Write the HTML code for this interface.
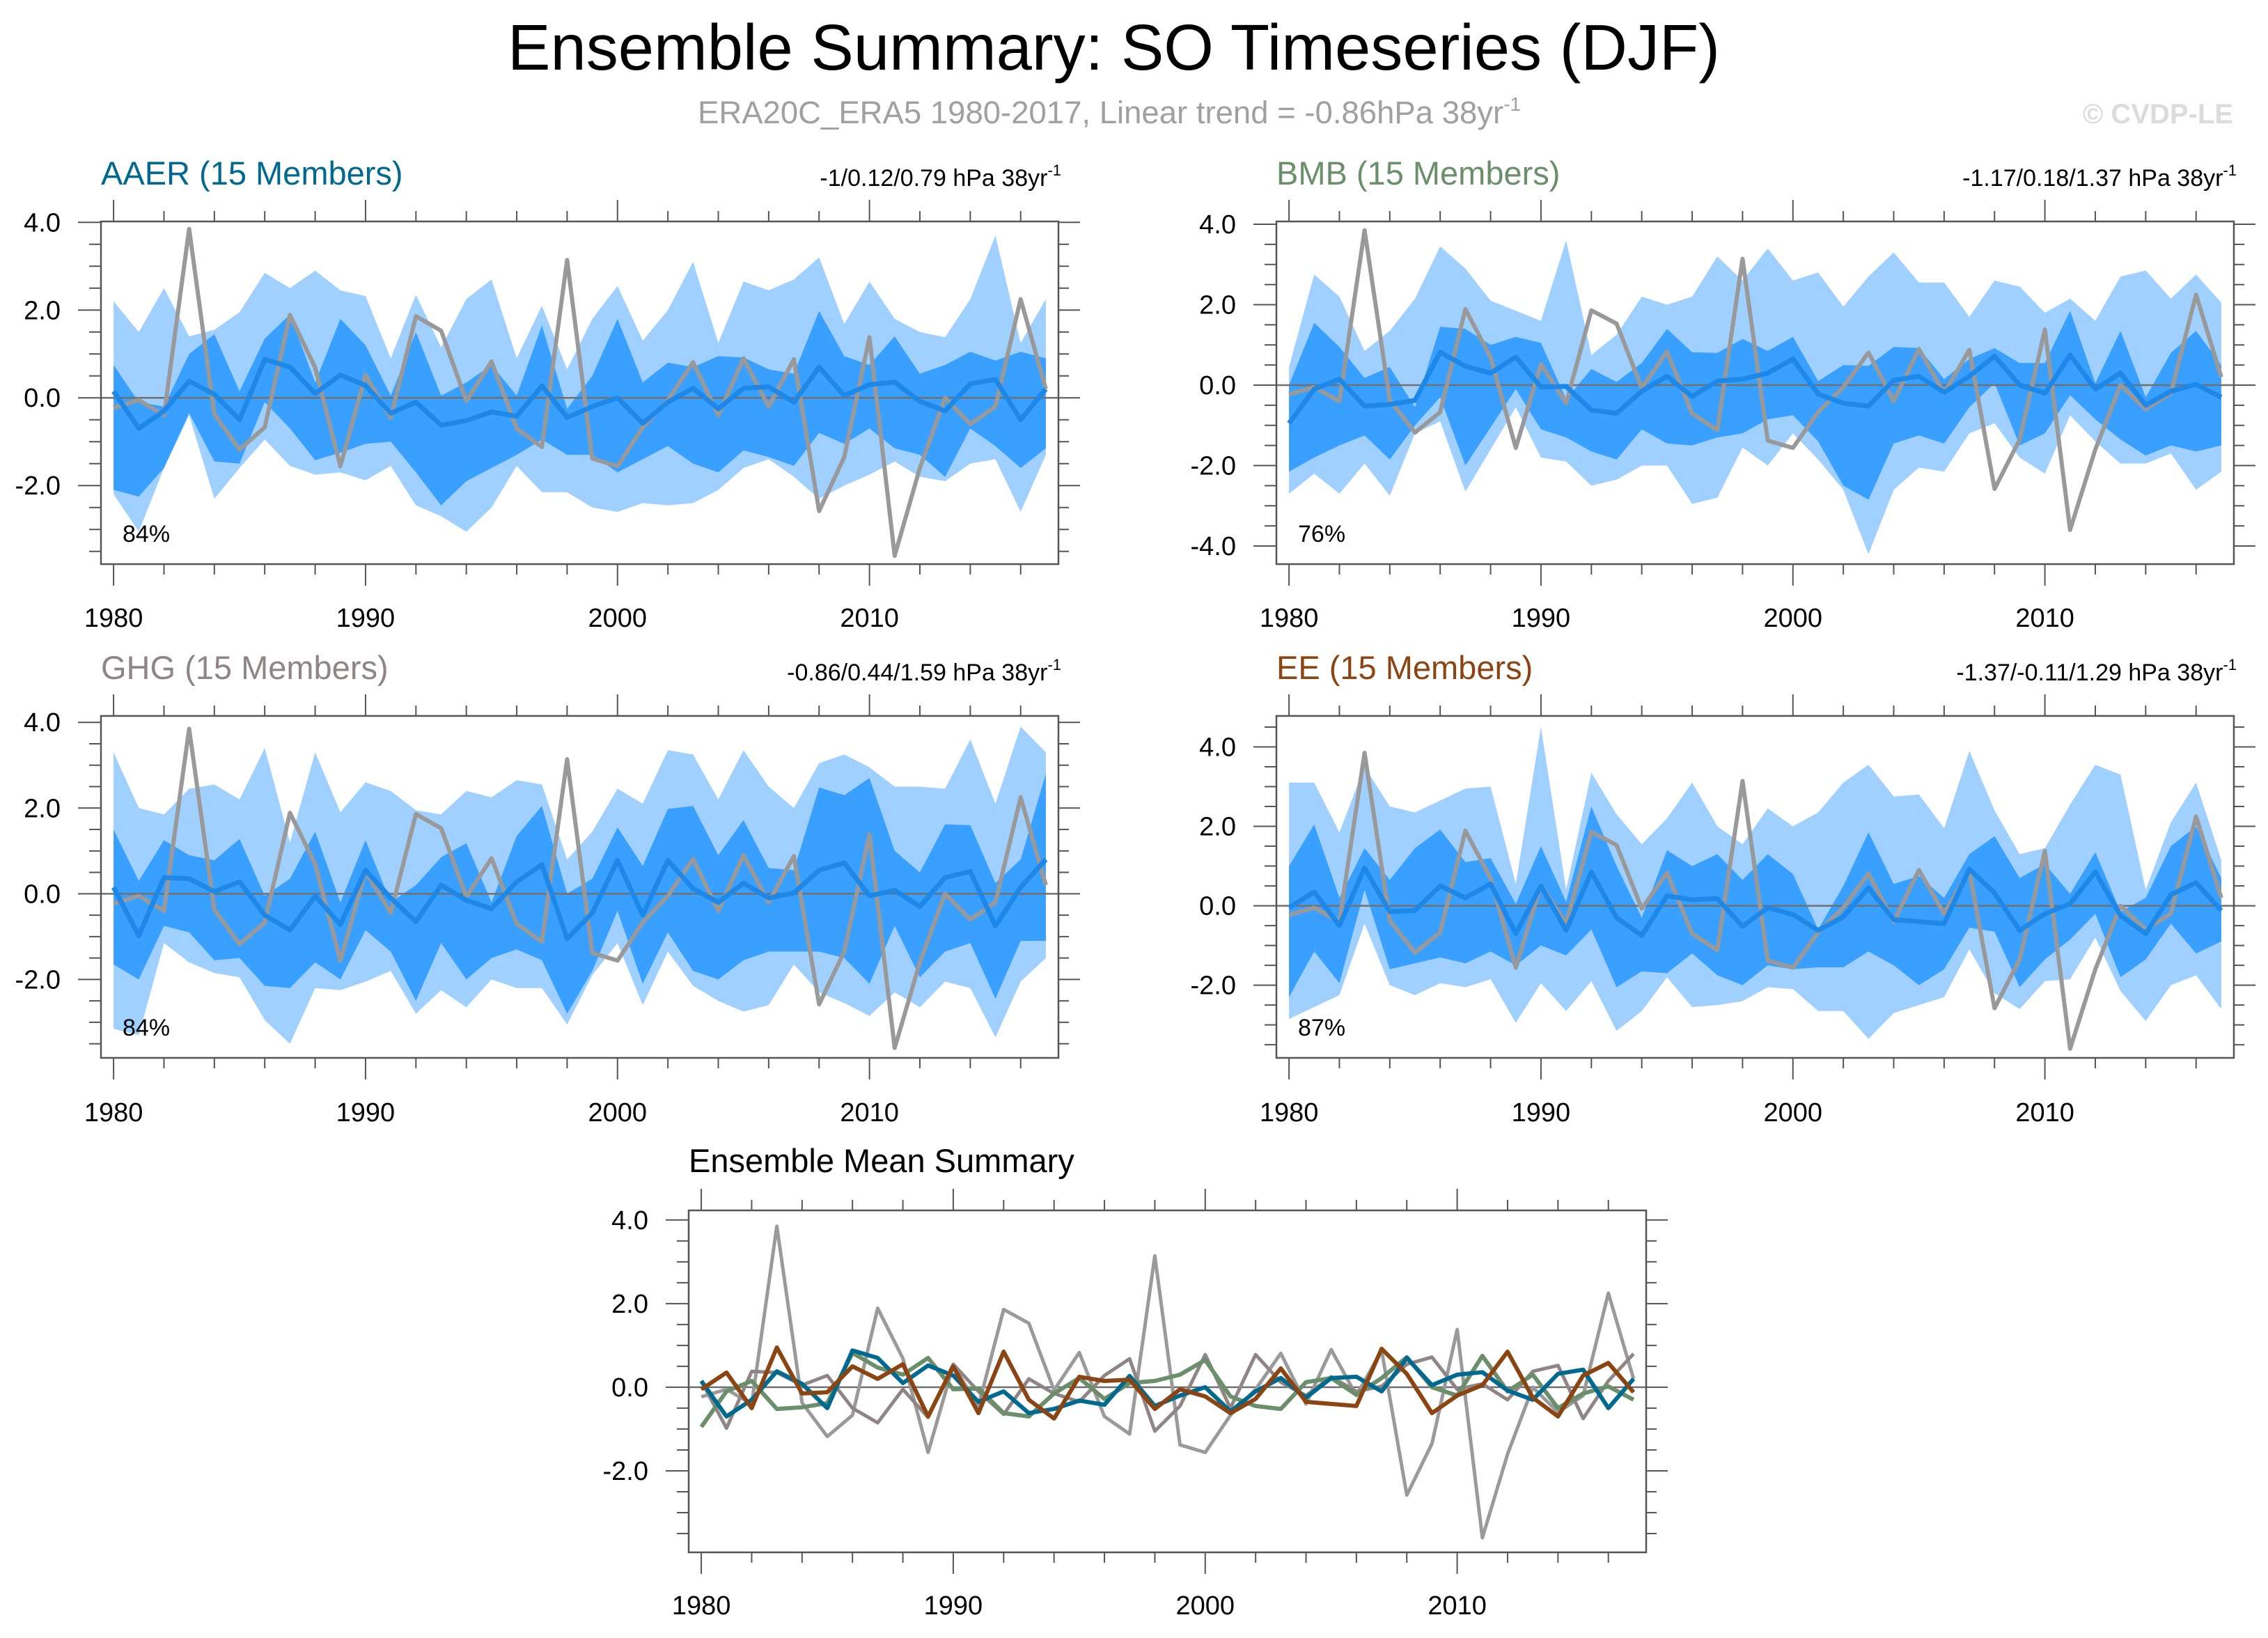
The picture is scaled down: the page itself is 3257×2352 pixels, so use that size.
<!DOCTYPE html>
<html><head><meta charset="utf-8"><style>
html,body{margin:0;padding:0;background:#fff}
svg{display:block}
text{font-family:"Liberation Sans",Arial,sans-serif}
</style></head><body>
<svg id="fig" width="3257" height="2352" viewBox="0 0 3257 2352" xmlns="http://www.w3.org/2000/svg">
<rect width="3257" height="2352" fill="#fff"/>
<text x="729" y="100" font-size="93" fill="#000" textLength="1741" lengthAdjust="spacingAndGlyphs">Ensemble Summary: SO Timeseries (DJF)</text>
<text x="1002" y="177" font-size="45.5" fill="#a0a0a0">ERA20C_ERA5 1980-2017, Linear trend = -0.86hPa 38yr<tspan dy="-18" font-size="28">-1</tspan></text>
<text x="3207" y="177" font-size="40" font-weight="bold" fill="#dcdcdc" text-anchor="end">© CVDP-LE</text>
<g id="panels"></g>
</svg>
<script>
const years = [];
for (let y = 1980; y <= 2017; y++) years.push(y);
const obs = [-0.23,-0.05,-0.4,3.85,-0.37,-1.18,-0.67,1.89,0.69,-1.56,0.52,-0.45,1.86,1.53,-0.07,0.83,-0.7,-1.12,3.14,-1.38,-1.56,-0.67,-0.05,0.81,-0.4,0.9,-0.2,0.88,-2.58,-1.35,1.38,-3.6,-1.6,0.0,-0.6,-0.2,2.25,0.2];

const aaerMean = [0.15,-0.7,-0.3,0.38,0.08,-0.5,0.88,0.7,0.1,0.52,0.28,-0.35,-0.1,-0.62,-0.52,-0.32,-0.42,0.27,-0.45,-0.2,0.0,-0.58,-0.1,0.22,-0.25,0.22,0.25,-0.1,0.7,0.05,0.3,0.36,-0.08,-0.3,0.32,0.42,-0.5,0.2];
const aaerDarkHi = [0.75,-0.1,-0.2,1.0,1.45,0.15,1.35,1.9,0.35,1.8,1.2,0.05,1.5,0.05,0.35,0.75,0.05,1.65,-0.25,0.5,1.8,0.35,0.8,0.7,0.95,0.92,0.65,0.55,1.98,0.95,0.75,1.4,0.55,0.75,1.05,0.85,1.05,0.9];
const aaerDarkLo = [-2.1,-2.25,-1.6,-0.35,-1.45,-1.5,-0.1,-0.7,-1.42,-1.25,-1.05,-1.0,-1.7,-2.45,-1.9,-1.6,-1.3,-0.95,-1.3,-1.3,-1.7,-1.4,-1.1,-1.5,-1.7,-1.2,-1.35,-1.55,-0.8,-1.05,-0.7,-1.15,-1.3,-1.8,-0.7,-1.1,-1.6,-1.15];
const aaerLightHi = [2.2,1.5,2.5,1.4,1.55,1.95,2.85,2.5,2.9,2.45,2.32,0.9,2.35,1.15,2.25,2.7,0.9,2.1,0.65,1.8,2.55,1.3,2.0,3.1,1.25,2.65,2.45,2.7,3.2,1.68,2.65,1.8,1.5,1.38,2.25,3.7,1.25,2.25];
const aaerLightLo = [-2.2,-3.05,-1.6,-0.4,-2.3,-1.6,-0.95,-1.55,-1.75,-1.7,-1.88,-1.55,-2.45,-2.7,-3.05,-2.5,-1.55,-2.15,-2.15,-2.5,-2.6,-2.4,-2.45,-2.4,-2.1,-1.6,-1.4,-1.8,-2.3,-2.0,-1.75,-1.45,-1.8,-1.9,-1.5,-1.4,-2.6,-1.3];

const bmbMean = [-0.95,-0.1,0.15,-0.52,-0.48,-0.38,0.82,0.47,0.3,0.7,-0.05,-0.03,-0.62,-0.7,-0.15,0.22,-0.28,0.1,0.15,0.3,0.65,-0.22,-0.45,-0.52,0.12,0.22,-0.18,0.22,0.72,0.0,-0.2,0.75,-0.1,0.3,-0.5,-0.15,0.02,-0.3];
const bmbDarkHi = [0.0,1.55,0.95,0.18,0.45,-0.55,1.45,1.4,1.0,1.2,1.05,-0.35,0.4,0.08,0.55,1.4,0.82,0.8,1.15,0.85,1.2,0.1,0.5,0.48,0.95,0.92,0.15,0.65,0.92,0.55,0.55,1.85,0.05,1.35,-0.3,0.8,1.35,0.5];
const bmbDarkLo = [-2.15,-1.8,-1.5,-1.25,-1.85,-1.0,-0.3,-2.0,-1.05,-0.1,-1.1,-1.3,-1.65,-1.85,-1.1,-1.45,-1.5,-1.3,-1.2,-0.85,-0.75,-1.4,-2.5,-2.85,-1.45,-1.25,-1.45,-0.55,0.05,-1.5,-1.2,-0.25,-0.85,-1.35,-1.75,-1.5,-1.65,-1.5];
const bmbLightHi = [0.45,2.75,2.2,0.85,1.35,2.15,3.45,2.9,2.1,1.85,1.6,3.6,0.75,1.25,2.2,2.0,2.2,3.2,2.6,3.4,2.6,2.8,1.95,2.7,3.3,2.55,2.55,1.7,2.6,2.45,1.8,2.15,1.6,2.7,2.85,2.15,2.75,2.05];
const bmbLightLo = [-2.7,-2.2,-2.7,-1.95,-2.75,-1.2,-0.9,-2.65,-1.6,-0.55,-1.8,-1.9,-2.5,-2.35,-2.0,-2.0,-2.95,-2.8,-1.55,-2.0,-1.2,-1.85,-2.6,-4.2,-2.6,-2.05,-2.15,-1.2,-0.95,-1.8,-2.2,-0.75,-1.4,-1.95,-1.95,-1.7,-2.6,-2.15];

const ghgMean = [0.15,-0.98,0.38,0.35,0.05,0.28,-0.5,-0.85,-0.05,-0.72,0.55,-0.1,-0.65,0.2,-0.15,-0.35,0.28,0.68,-1.05,-0.45,0.78,-0.5,0.78,0.12,-0.2,0.25,-0.1,0.02,0.55,0.72,-0.05,0.08,-0.3,0.38,0.52,-0.75,0.15,0.8];
const ghgDarkHi = [1.5,0.3,1.25,0.9,0.78,1.28,-0.05,0.35,1.45,-0.2,1.25,-0.2,0.2,0.85,1.18,-0.2,1.35,2.05,0.0,0.35,1.55,0.65,1.98,2.05,0.9,1.72,0.6,0.55,2.48,2.3,2.7,1.0,0.5,1.62,1.6,0.25,0.8,2.8];
const ghgDarkLo = [-1.65,-2.0,-0.75,-0.9,-1.55,-1.5,-2.15,-2.2,-1.6,-2.0,-0.85,-1.35,-2.5,-1.15,-2.0,-1.5,-1.3,-1.55,-2.8,-1.8,-0.4,-2.1,-0.9,-1.8,-2.0,-1.55,-1.35,-1.35,-1.35,-1.5,-2.1,-0.75,-1.95,-1.35,-1.15,-2.45,-1.1,-1.1];
const ghgLightHi = [3.3,2.0,1.85,2.45,2.55,2.2,3.4,1.2,3.3,1.9,2.6,2.4,1.95,1.85,2.4,2.25,2.65,2.55,0.8,1.45,2.45,2.1,3.35,3.25,2.2,3.35,2.5,2.0,3.05,3.25,2.95,2.5,2.5,2.45,3.6,2.1,3.9,3.3];
const ghgLightLo = [-3.15,-3.3,-1.15,-1.6,-1.85,-1.95,-2.95,-3.5,-2.2,-2.25,-2.05,-1.8,-2.8,-2.25,-2.65,-2.0,-2.2,-2.2,-3.05,-1.9,-1.15,-2.6,-1.35,-2.15,-2.5,-2.75,-2.6,-1.65,-2.3,-2.55,-2.85,-2.3,-2.65,-2.05,-2.2,-3.35,-2.05,-1.5];

const eeMean = [-0.05,0.35,-0.5,0.95,-0.15,-0.12,0.5,0.2,0.55,-0.7,0.5,-0.62,0.85,-0.3,-0.75,0.25,0.15,0.18,-0.52,-0.05,-0.22,-0.62,-0.28,0.45,-0.35,-0.4,-0.45,0.92,0.32,-0.62,-0.2,0.05,0.85,-0.25,-0.7,0.28,0.58,-0.12];
const eeDarkHi = [1.0,2.05,0.2,1.45,0.65,1.45,1.92,1.1,1.2,0.05,1.5,0.1,2.5,1.0,-0.3,1.4,1.0,1.3,0.65,1.3,0.8,-0.6,0.5,1.85,0.55,0.75,0.2,1.3,1.75,0.7,1.05,0.3,1.35,-0.15,0.2,1.5,2.0,0.7];
const eeDarkLo = [-2.3,-1.15,-1.95,0.4,-1.6,-1.45,-1.3,-1.45,-1.15,-1.5,-1.0,-1.25,-0.6,-2.05,-1.65,-1.7,-1.2,-1.75,-2.0,-1.5,-1.6,-1.55,-1.55,-1.15,-1.5,-2.0,-1.6,-0.55,-0.65,-2.05,-1.35,-0.85,-0.2,-1.8,-1.35,-0.45,-1.2,-0.9];
const eeLightHi = [3.1,3.1,1.85,3.5,2.5,2.35,2.65,2.95,3.0,0.55,4.5,0.4,3.35,2.3,1.55,2.2,3.1,2.0,1.55,2.45,2.0,2.35,3.1,3.55,2.75,2.8,1.95,3.9,2.4,1.3,1.45,2.55,3.55,3.3,0.4,2.1,3.1,1.15];
const eeLightLo = [-2.85,-2.55,-2.25,-0.45,-2.0,-2.25,-1.95,-2.05,-1.85,-2.95,-1.95,-2.65,-1.9,-3.15,-2.65,-1.8,-2.55,-2.5,-2.4,-2.05,-2.1,-2.65,-2.65,-3.35,-2.7,-2.5,-2.3,-1.1,-2.2,-2.6,-1.9,-1.85,-0.8,-2.15,-2.9,-2.0,-1.75,-2.6];

const yTickValsA = [4,2,0,-2];
const yTickLabelsA = ["4.0","2.0","0.0","-2.0"];
const yTickValsB = [4,2,0,-2,-4];
const yTickLabelsB = ["4.0","2.0","0.0","-2.0","-4.0"];
const xTickVals = [1980,1990,2000,2010];
const xTickLabels = ["1980","1990","2000","2010"];

const NS = "http://www.w3.org/2000/svg";
const root = document.getElementById('panels');
function mk(tag, attrs, parent) {
  const e = document.createElementNS(NS, tag);
  for (const k in attrs) e.setAttribute(k, attrs[k]);
  (parent || root).appendChild(e);
  return e;
}

function drawPanel(cfg) {
  const g = mk('g', {});
  
  
  const L = cfg.l, R = cfg.r, T = cfg.t, B = cfg.b;
  const xs = v => L + (v - 1979.5) / (2017.5 - 1979.5) * (R - L);
  const ys = v => B - (v - cfg.ymin) / (cfg.ymax - cfg.ymin) * (B - T);
  const pts = arr => arr.map((v, i) => xs(years[i]).toFixed(1) + ',' + ys(v).toFixed(1));
  if (cfg.bands) {
    const [lh, ll, dh, dl] = cfg.bands;
    const p1 = mk('polygon', {points: pts(lh).concat(pts(ll).reverse()).join(' '), fill: '#a0d0ff'}, g);
    
    
    const p2 = mk('polygon', {points: pts(dh).concat(pts(dl).reverse()).join(' '), fill: '#3aa0ff'}, g);
    
    
  }
  const z = mk('line', {x1: L, x2: R, y1: ys(0), y2: ys(0), stroke: '#707070', 'stroke-width': 2.5}, g);
  
  
  cfg.lines.forEach(ln => {
    const pl = mk('polyline', {points: pts(ln.data).join(' '), fill: 'none', stroke: ln.color, 'stroke-width': ln.w, 'stroke-linejoin': 'round'}, g);
    
    
  });
  const fr = mk('rect', {x: L, y: T, width: R - L, height: B - T, fill: 'none', stroke: '#555', 'stroke-width': 2.5}, g);
  
  
  for (let yr = 1980; yr <= 2017; yr += 2) {
    const maj = (yr % 10 === 0);
    const len = maj ? 31 : 15;
    const x = xs(yr);
    const t1 = mk('line', {x1: x, x2: x, y1: T, y2: T - len, stroke: '#555', 'stroke-width': 2}, g);
    
    
    const t2 = mk('line', {x1: x, x2: x, y1: B, y2: B + len, stroke: '#555', 'stroke-width': 2}, g);
    
    
  }
  xTickVals.forEach((v, i) => {
    const t = mk('text', {x: xs(v), y: cfg.xlabY, 'font-size': 38, 'text-anchor': 'middle', fill: '#000'}, g);
    t.textContent = xTickLabels[i];
    
    
  });
  for (let v = Math.ceil(cfg.ymin * 2) / 2; v <= cfg.ymax; v += 0.5) {
    const maj = Math.abs(v % 2) < 1e-6;
    const y = ys(v);
    const t1 = mk('line', {x1: L, x2: L - (maj ? 33 : 17), y1: y, y2: y, stroke: '#555', 'stroke-width': 2}, g);
    
    
    const t2 = mk('line', {x1: R, x2: R + (maj ? 31 : 15), y1: y, y2: y, stroke: '#555', 'stroke-width': 2}, g);
    
    
  }
  cfg.yVals.forEach((v, i) => {
    const t = mk('text', {x: L - 58, y: ys(v) + 13, 'font-size': 38, 'text-anchor': 'end', fill: '#000'}, g);
    t.textContent = cfg.yLabels[i];
    
    
  });
  const tt = mk('text', {x: L, y: cfg.titleY, 'font-size': 47, fill: cfg.titleColor}, g);
  tt.textContent = cfg.title;
  
  
  if (cfg.trend) {
    const tr = mk('text', {x: R + 4, y: cfg.titleY + 2, 'font-size': 34, 'text-anchor': 'end', fill: '#000'}, g);
    
    
    const s1 = mk('tspan', {}, tr); s1.textContent = cfg.trend + ' hPa 38yr';
    const s2 = mk('tspan', {dy: -15, 'font-size': 22}, tr); s2.textContent = '-1';
  }
  if (cfg.pct) {
    const pc = mk('text', {x: L + 31, y: cfg.pctY, 'font-size': 34, fill: '#000'}, g);
    pc.textContent = cfg.pct;
    
    
  }
}

const obsLine = {data: obs, color: '#999999', w: 6, name: 'observed-line'};
drawPanel({name:'aaer', l:145, r:1520, t:318, b:810, ymin:-3.79, ymax:4.02, xlabY:900, titleY:265,
  title:'AAER (15 Members)', titleColor:'#00698f', trend:'-1/0.12/0.79', pct:'84%', pctY:778,
  yVals:yTickValsA, yLabels:yTickLabelsA,
  bands:[aaerLightHi, aaerLightLo, aaerDarkHi, aaerDarkLo],
  lines:[obsLine, {data:aaerMean, color:'#1e88e8', w:7, name:'ensemble-mean-line'}]});
drawPanel({name:'bmb', l:1833, r:3208, t:318, b:810, ymin:-4.45, ymax:4.07, xlabY:900, titleY:265,
  title:'BMB (15 Members)', titleColor:'#6b8e6b', trend:'-1.17/0.18/1.37', pct:'76%', pctY:778,
  yVals:yTickValsB, yLabels:yTickLabelsB,
  bands:[bmbLightHi, bmbLightLo, bmbDarkHi, bmbDarkLo],
  lines:[obsLine, {data:bmbMean, color:'#1e88e8', w:7, name:'ensemble-mean-line'}]});
drawPanel({name:'ghg', l:145, r:1520, t:1028, b:1519, ymin:-3.83, ymax:4.15, xlabY:1610, titleY:975,
  title:'GHG (15 Members)', titleColor:'#8f8585', trend:'-0.86/0.44/1.59', pct:'84%', pctY:1487,
  yVals:yTickValsA, yLabels:yTickLabelsA,
  bands:[ghgLightHi, ghgLightLo, ghgDarkHi, ghgDarkLo],
  lines:[obsLine, {data:ghgMean, color:'#1e88e8', w:7, name:'ensemble-mean-line'}]});
drawPanel({name:'ee', l:1833, r:3208, t:1028, b:1519, ymin:-3.83, ymax:4.78, xlabY:1610, titleY:975,
  title:'EE (15 Members)', titleColor:'#8b4513', trend:'-1.37/-0.11/1.29', pct:'87%', pctY:1487,
  yVals:yTickValsA, yLabels:yTickLabelsA,
  bands:[eeLightHi, eeLightLo, eeDarkHi, eeDarkLo],
  lines:[obsLine, {data:eeMean, color:'#1e88e8', w:7, name:'ensemble-mean-line'}]});
drawPanel({name:'ensemble-mean-summary', l:989, r:2364, t:1738, b:2229, ymin:-3.95, ymax:4.23, xlabY:2318, titleY:1683,
  title:'Ensemble Mean Summary', titleColor:'#000',
  yVals:yTickValsA, yLabels:yTickLabelsA,
  lines:[{data:obs, color:'#9a9a9a', w:5, name:'observed-line'},
         {data:ghgMean, color:'#8f8585', w:5, name:'ghg-mean-line'},
         {data:bmbMean, color:'#6b8e6b', w:6, name:'bmb-mean-line'},
         {data:aaerMean, color:'#00698f', w:6, name:'aaer-mean-line'},
         {data:eeMean, color:'#8b4513', w:6, name:'ee-mean-line'}]});
</script>
</body></html>
